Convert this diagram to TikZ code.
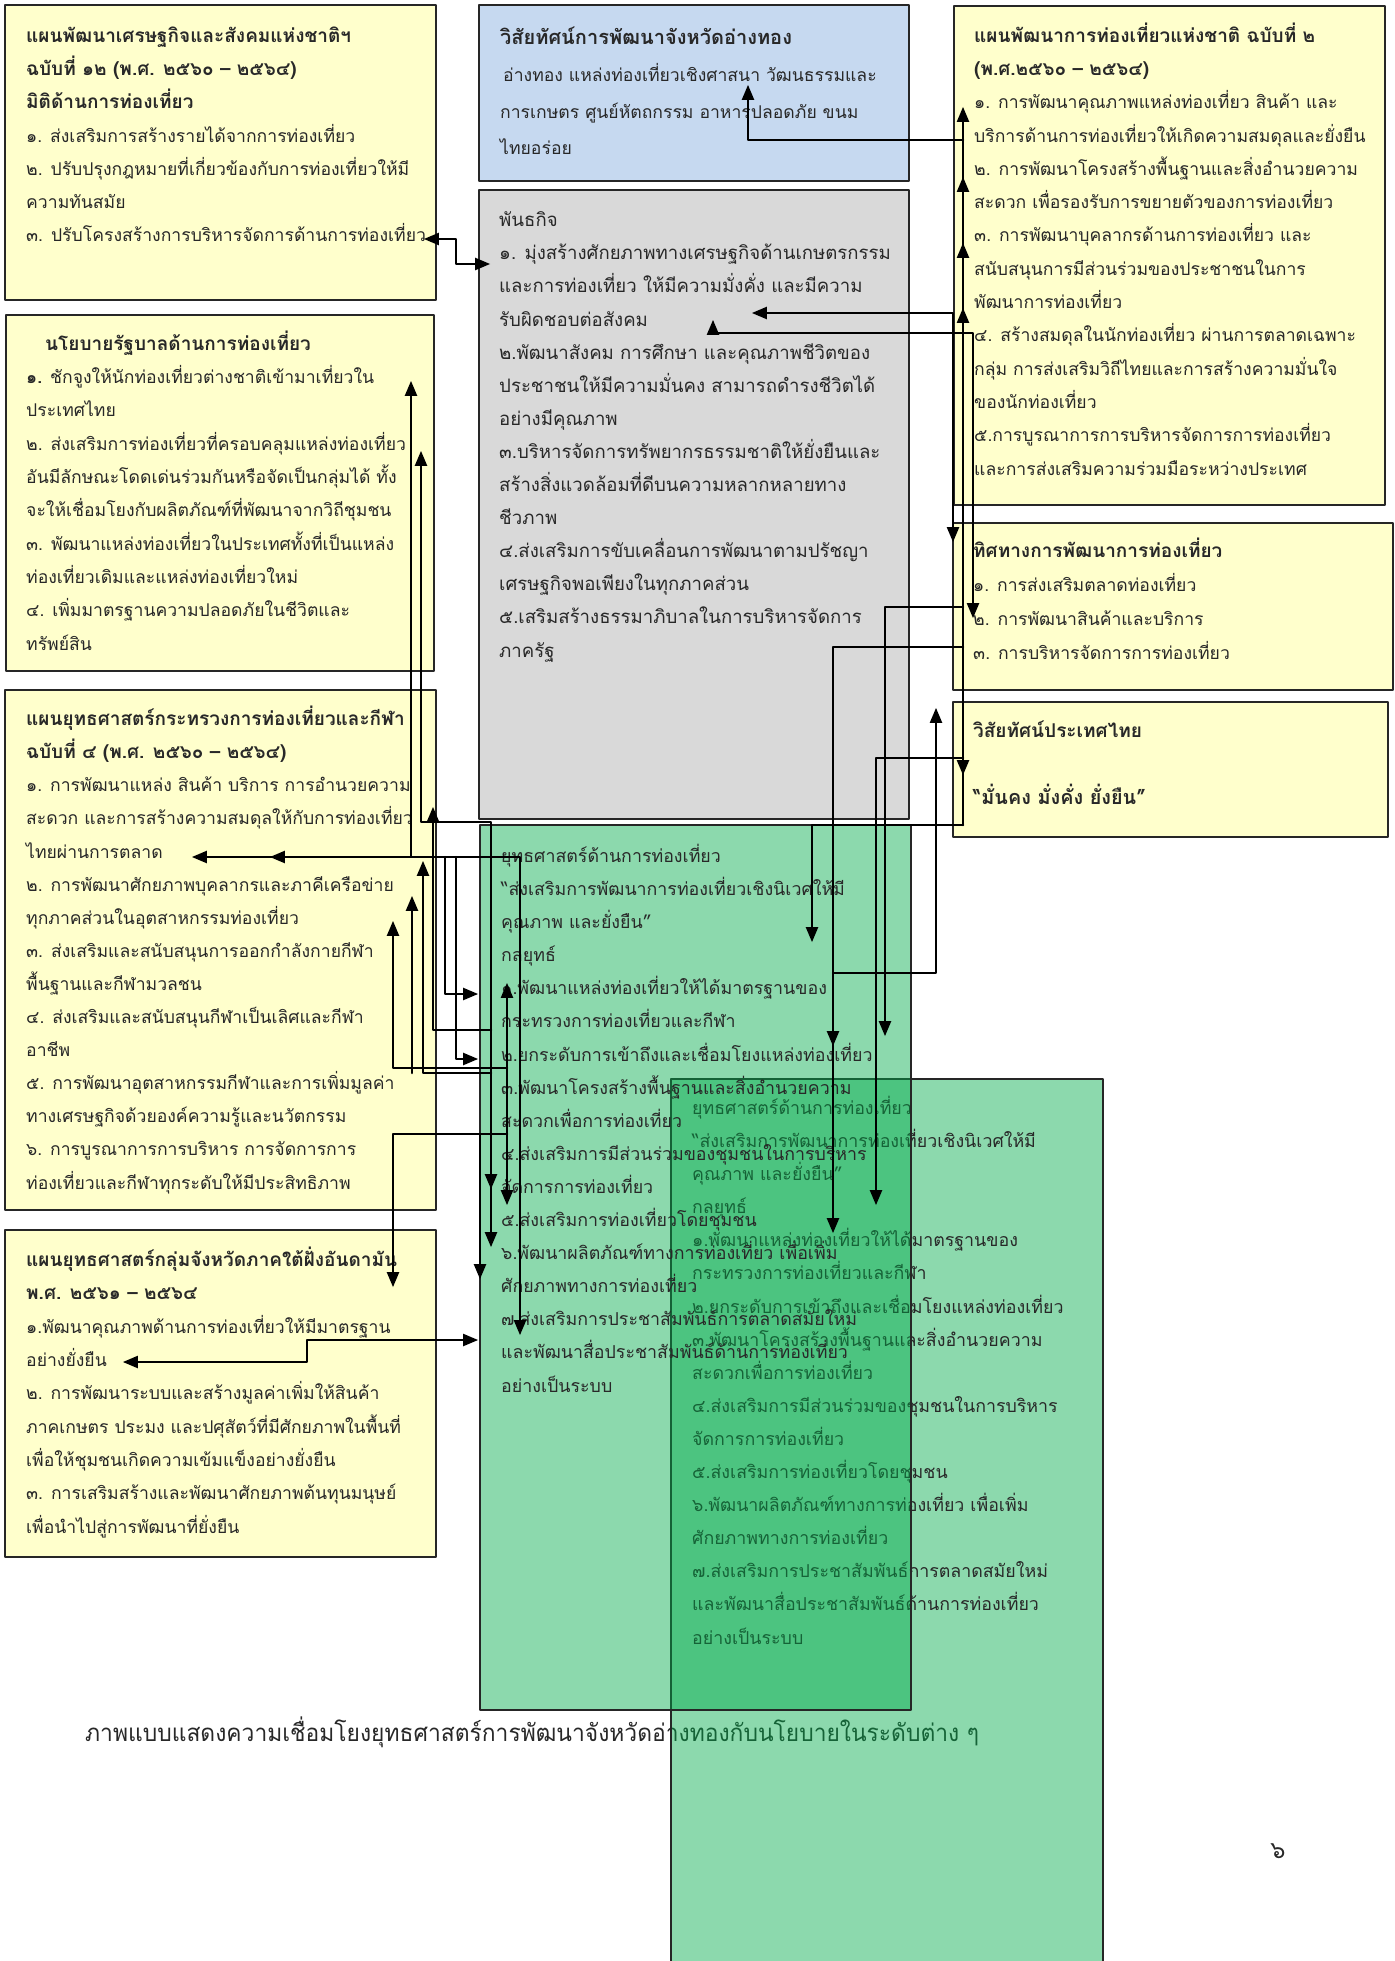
\documentclass[tikz,border=0pt]{standalone}
\usepackage{fontspec}
\setmainfont[Script=Thai]{Loma}
\usetikzlibrary{arrows}
\definecolor{planyellow}{RGB}{255,255,204}
\definecolor{visionblue}{RGB}{198,217,240}
\definecolor{missiongray}{RGB}{217,217,217}
\definecolor{stratgreen}{RGB}{0,171,74}
\definecolor{textgray}{RGB}{40,40,40}
\newcommand{\boxtitle}[1]{{\fontsize{19}{33}\selectfont\bfseries #1}}

\begin{document}
\begin{tikzpicture}[line cap=round,line join=round,>=triangle 45,x=1pt,y=-1pt,
  panel/.style={draw=black!85,line width=2.4pt},
  plantext/.style={anchor=base west,align=left,inner sep=0pt,text=textgray,font=\fontsize{17.6}{33.3}\selectfont},
  link/.style={line width=2.5pt}]
\useasboundingbox (0,0) rectangle (1394,1961);
\fill[white] (0,0) rectangle (1394,1961);

\draw[panel,fill=planyellow] (5,5) rectangle (436,300);
\draw[panel,fill=visionblue] (479,5) rectangle (909,181);
\draw[panel,fill=planyellow] (954,6) rectangle (1385,505);
\draw[panel,fill=planyellow] (6,315) rectangle (434,671);
\draw[panel,fill=missiongray] (479,190) rectangle (909,819);
\draw[panel,fill=planyellow] (953,523) rectangle (1393,690);
\draw[panel,fill=planyellow] (953,702) rectangle (1388,837);
\draw[panel,fill=planyellow] (5,690) rectangle (436,1210);
\draw[panel,fill=planyellow] (5,1230) rectangle (436,1557);

\node[plantext] (nesdp) at (26,242) {\boxtitle{แผนพัฒนาเศรษฐกิจและสังคมแห่งชาติฯ}\\
\boxtitle{ฉบับที่ ๑๒ (พ.ศ. ๒๕๖๐ – ๒๕๖๔)}\\
\boxtitle{มิติด้านการท่องเที่ยว}\\
๑. ส่งเสริมการสร้างรายได้จากการท่องเที่ยว\\
๒. ปรับปรุงกฎหมายที่เกี่ยวข้องกับการท่องเที่ยวให้มี\\
ความทันสมัย\\
๓. ปรับโครงสร้างการบริหารจัดการด้านการท่องเที่ยว};

\node[plantext,font=\fontsize{17.6}{36.7}\selectfont] (vision) at (500,155) {{\fontsize{20}{33}\selectfont\bfseries วิสัยทัศน์การพัฒนาจังหวัดอ่างทอง}\\
\hspace{3pt}อ่างทอง แหล่งท่องเที่ยวเชิงศาสนา วัฒนธรรมและ\\
การเกษตร ศูนย์หัตถกรรม อาหารปลอดภัย ขนม\\
ไทยอร่อย};

\node[plantext] (tourplan) at (974,475) {\boxtitle{แผนพัฒนาการท่องเที่ยวแห่งชาติ ฉบับที่ ๒}\\
\boxtitle{(พ.ศ.๒๕๖๐ – ๒๕๖๔)}\\
๑. การพัฒนาคุณภาพแหล่งท่องเที่ยว สินค้า และ\\
บริการด้านการท่องเที่ยวให้เกิดความสมดุลและยั่งยืน\\
๒. การพัฒนาโครงสร้างพื้นฐานและสิ่งอำนวยความ\\
สะดวก เพื่อรองรับการขยายตัวของการท่องเที่ยว\\
๓. การพัฒนาบุคลากรด้านการท่องเที่ยว และ\\
สนับสนุนการมีส่วนร่วมของประชาชนในการ\\
พัฒนาการท่องเที่ยว\\
๔. สร้างสมดุลในนักท่องเที่ยว ผ่านการตลาดเฉพาะ\\
กลุ่ม การส่งเสริมวิถีไทยและการสร้างความมั่นใจ\\
ของนักท่องเที่ยว\\
๕.การบูรณาการการบริหารจัดการการท่องเที่ยว\\
และการส่งเสริมความร่วมมือระหว่างประเทศ};

\node[plantext] (govpolicy) at (26,650) {\hspace{19pt}\boxtitle{นโยบายรัฐบาลด้านการท่องเที่ยว}\\
{\bfseries ๑.} ชักจูงให้นักท่องเที่ยวต่างชาติเข้ามาเที่ยวใน\\
ประเทศไทย\\
๒. ส่งเสริมการท่องเที่ยวที่ครอบคลุมแหล่งท่องเที่ยว\\
อันมีลักษณะโดดเด่นร่วมกันหรือจัดเป็นกลุ่มได้ ทั้ง\\
จะให้เชื่อมโยงกับผลิตภัณฑ์ที่พัฒนาจากวิถีชุมชน\\
๓. พัฒนาแหล่งท่องเที่ยวในประเทศทั้งที่เป็นแหล่ง\\
ท่องเที่ยวเดิมและแหล่งท่องเที่ยวใหม่\\
๔. เพิ่มมาตรฐานความปลอดภัยในชีวิตและ\\
ทรัพย์สิน};

\node[plantext,font=\fontsize{18.6}{33.1}\selectfont] (mission) at (499,657) {พันธกิจ\\
๑. มุ่งสร้างศักยภาพทางเศรษฐกิจด้านเกษตรกรรม\\
และการท่องเที่ยว ให้มีความมั่งคั่ง และมีความ\\
รับผิดชอบต่อสังคม\\
๒.พัฒนาสังคม การศึกษา และคุณภาพชีวิตของ\\
ประชาชนให้มีความมั่นคง สามารถดำรงชีวิตได้\\
อย่างมีคุณภาพ\\
๓.บริหารจัดการทรัพยากรธรรมชาติให้ยั่งยืนและ\\
สร้างสิ่งแวดล้อมที่ดีบนความหลากหลายทาง\\
ชีวภาพ\\
๔.ส่งเสริมการขับเคลื่อนการพัฒนาตามปรัชญา\\
เศรษฐกิจพอเพียงในทุกภาคส่วน\\
๕.เสริมสร้างธรรมาภิบาลในการบริหารจัดการ\\
ภาครัฐ};

\node[plantext,font=\fontsize{17.6}{34}\selectfont] (direction) at (973,659) {\boxtitle{ทิศทางการพัฒนาการท่องเที่ยว}\\
๑. การส่งเสริมตลาดท่องเที่ยว\\
๒. การพัฒนาสินค้าและบริการ\\
๓. การบริหารจัดการการท่องเที่ยว};

\node[plantext,font=\fontsize{17.6}{67}\selectfont] (thaivision) at (973,804) {\boxtitle{วิสัยทัศน์ประเทศไทย}\\
{\fontsize{19.8}{33}\selectfont\bfseries “มั่นคง มั่งคั่ง ยั่งยืน”}};

\node[plantext,font=\fontsize{17.6}{33.1}\selectfont] (ministry) at (26,1189) {\boxtitle{แผนยุทธศาสตร์กระทรวงการท่องเที่ยวและกีฬา}\\
\boxtitle{ฉบับที่ ๔ (พ.ศ. ๒๕๖๐ – ๒๕๖๔)}\\
๑. การพัฒนาแหล่ง สินค้า บริการ การอำนวยความ\\
สะดวก และการสร้างความสมดุลให้กับการท่องเที่ยว\\
ไทยผ่านการตลาด\\
๒. การพัฒนาศักยภาพบุคลากรและภาคีเครือข่าย\\
ทุกภาคส่วนในอุตสาหกรรมท่องเที่ยว\\
๓. ส่งเสริมและสนับสนุนการออกกำลังกายกีฬา\\
พื้นฐานและกีฬามวลชน\\
๔. ส่งเสริมและสนับสนุนกีฬาเป็นเลิศและกีฬา\\
อาชีพ\\
๕. การพัฒนาอุตสาหกรรมกีฬาและการเพิ่มมูลค่า\\
ทางเศรษฐกิจด้วยองค์ความรู้และนวัตกรรม\\
๖. การบูรณาการการบริหาร การจัดการการ\\
ท่องเที่ยวและกีฬาทุกระดับให้มีประสิทธิภาพ};

\node[plantext] (andaman) at (26,1533) {\boxtitle{แผนยุทธศาสตร์กลุ่มจังหวัดภาคใต้ฝั่งอันดามัน}\\
\boxtitle{พ.ศ. ๒๕๖๑ – ๒๕๖๔}\\
๑.พัฒนาคุณภาพด้านการท่องเที่ยวให้มีมาตรฐาน\\
อย่างยั่งยืน\\
๒. การพัฒนาระบบและสร้างมูลค่าเพิ่มให้สินค้า\\
ภาคเกษตร ประมง และปศุสัตว์ที่มีศักยภาพในพื้นที่\\
เพื่อให้ชุมชนเกิดความเข้มแข็งอย่างยั่งยืน\\
๓. การเสริมสร้างและพัฒนาศักยภาพต้นทุนมนุษย์\\
เพื่อนำไปสู่การพัฒนาที่ยั่งยืน};

\node[anchor=base west,inner sep=0pt,text=textgray] (caption) at (85,1741) {\resizebox{894pt}{\height}{\fontsize{24}{24}\selectfont ภาพแบบแสดงความเชื่อมโยงยุทธศาสตร์การพัฒนาจังหวัดอ่างทองกับนโยบายในระดับต่าง ๆ}};
\node[anchor=base,inner sep=0pt,text=textgray] (pagenum) at (1278,1858) {\fontsize{24}{24}\selectfont ๖};

\draw[panel,line width=2pt,fill=stratgreen,fill opacity=0.45] (671,1079) rectangle (1103,1975);
\node[plantext,font=\fontsize{17.8}{33.1}\selectfont] (strategycopy) at (692,1644) {ยุทธศาสตร์ด้านการท่องเที่ยว\\
“ส่งเสริมการพัฒนาการท่องเที่ยวเชิงนิเวศให้มี\\
คุณภาพ และยั่งยืน”\\
กลยุทธ์\\
๑.พัฒนาแหล่งท่องเที่ยวให้ได้มาตรฐานของ\\
กระทรวงการท่องเที่ยวและกีฬา\\
๒.ยกระดับการเข้าถึงและเชื่อมโยงแหล่งท่องเที่ยว\\
๓.พัฒนาโครงสร้างพื้นฐานและสิ่งอำนวยความ\\
สะดวกเพื่อการท่องเที่ยว\\
๔.ส่งเสริมการมีส่วนร่วมของชุมชนในการบริหาร\\
จัดการการท่องเที่ยว\\
๕.ส่งเสริมการท่องเที่ยวโดยชุมชน\\
๖.พัฒนาผลิตภัณฑ์ทางการท่องเที่ยว เพื่อเพิ่ม\\
ศักยภาพทางการท่องเที่ยว\\
๗.ส่งเสริมการประชาสัมพันธ์การตลาดสมัยใหม่\\
และพัฒนาสื่อประชาสัมพันธ์ด้านการท่องเที่ยว\\
อย่างเป็นระบบ};

\draw[panel,line width=2pt,fill=stratgreen,fill opacity=0.45] (480,825) rectangle (911,1710);
\node[plantext,font=\fontsize{17.8}{33.1}\selectfont] (strategy) at (501,1392) {ยุทธศาสตร์ด้านการท่องเที่ยว\\
“ส่งเสริมการพัฒนาการท่องเที่ยวเชิงนิเวศให้มี\\
คุณภาพ และยั่งยืน”\\
กลยุทธ์\\
๑.พัฒนาแหล่งท่องเที่ยวให้ได้มาตรฐานของ\\
กระทรวงการท่องเที่ยวและกีฬา\\
๒.ยกระดับการเข้าถึงและเชื่อมโยงแหล่งท่องเที่ยว\\
๓.พัฒนาโครงสร้างพื้นฐานและสิ่งอำนวยความ\\
สะดวกเพื่อการท่องเที่ยว\\
๔.ส่งเสริมการมีส่วนร่วมของชุมชนในการบริหาร\\
จัดการการท่องเที่ยว\\
๕.ส่งเสริมการท่องเที่ยวโดยชุมชน\\
๖.พัฒนาผลิตภัณฑ์ทางการท่องเที่ยว เพื่อเพิ่ม\\
ศักยภาพทางการท่องเที่ยว\\
๗.ส่งเสริมการประชาสัมพันธ์การตลาดสมัยใหม่\\
และพัฒนาสื่อประชาสัมพันธ์ด้านการท่องเที่ยว\\
อย่างเป็นระบบ};

\draw[link,<->] (424,239) -- (456,239) -- (456,264) -- (490,264);
\draw[link,->] (963,140) -- (748,140) -- (748,85);
\draw[link,->] (963,825) -- (963,107);
\draw[link,->] (963,210) -- (963,177);
\draw[link,->] (963,280) -- (963,243);
\draw[link,->] (963,340) -- (963,308);
\draw[link,<->] (752,313) -- (953,313) -- (953,542);
\draw[link,<->] (713,320) -- (713,333) -- (973,333) -- (973,618);
\draw[link,->] (963,607) -- (885,607) -- (885,1036);
\draw[link,->] (963,647) -- (833,647) -- (833,1233);
\draw[link,->] (833,1000) -- (833,1046);
\draw[link,->] (963,758) -- (876,758) -- (876,1205);
\draw[link,->] (963,740) -- (963,775);
\draw[link,->] (963,825) -- (812,825) -- (812,942);
\draw[link,<-] (936,708) -- (936,973) -- (833,973);

\draw[link,<->] (411,381) -- (411,857) -- (520,857) -- (520,1335);
\draw[link,<->] (421,451) -- (421,822) -- (491,822) -- (491,1247);
\draw[link,->] (491,1150) -- (491,1189);
\draw[link,<-] (433,807) -- (433,1030) -- (491,1030);
\draw[link,->] (440,857) -- (192,857);
\draw[link,->] (440,857) -- (270,857);
\draw[link,->] (445,857) -- (445,994) -- (478,994);
\draw[link,->] (456,857) -- (456,1059) -- (478,1059);
\draw[link,<-] (423,861) -- (423,1073) -- (491,1073);
\draw[link,<-] (412,896) -- (412,1073);
\draw[link,<-] (393,921) -- (393,1068) -- (507,1068);
\draw[link,<->] (507,983) -- (507,1205);
\draw[link,->] (507,1134) -- (393,1134) -- (393,1287);
\draw[link,->] (480,1134) -- (480,1279);
\draw[link,<->] (123,1362) -- (307,1362) -- (307,1340) -- (478,1340);
\end{tikzpicture}
\end{document}
